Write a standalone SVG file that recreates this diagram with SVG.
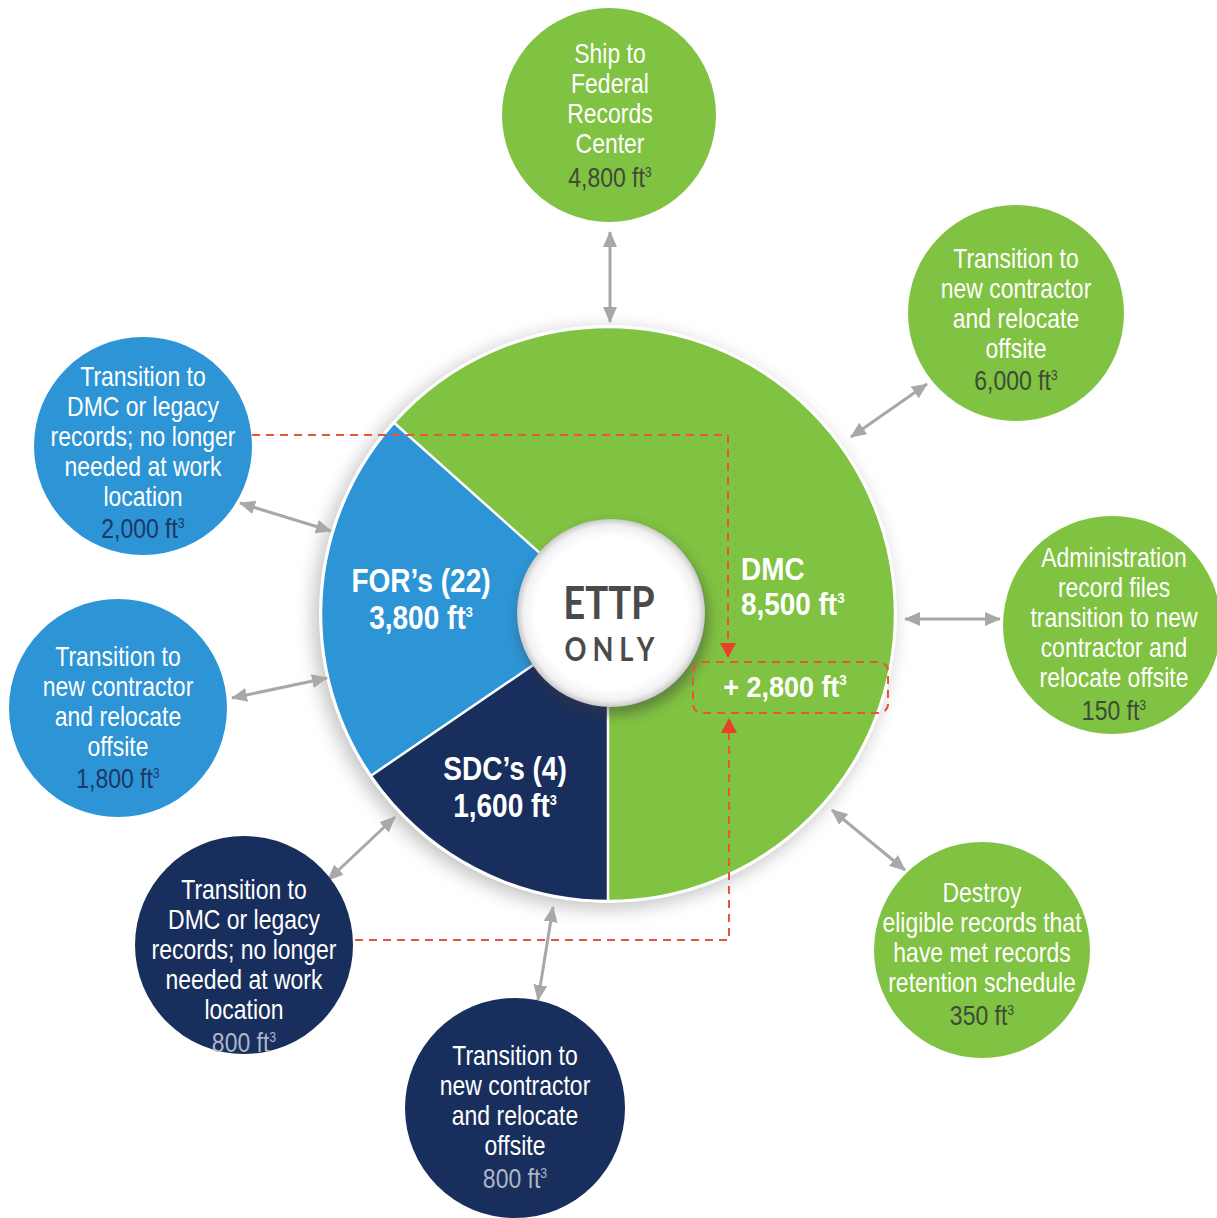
<svg xmlns="http://www.w3.org/2000/svg" width="1217" height="1218" viewBox="0 0 1217 1218">
  <style>
    .lbl { font-family: "Liberation Sans", Arial, sans-serif; font-size: 28px; text-anchor: middle; fill: #ffffff; }
    .val-g { fill: #3f4a3a; }
    .val-b { fill: #1d3766; }
    .val-n { fill: #aeb6c6; }
    .big { font-family: "Liberation Sans", Arial, sans-serif; font-weight: bold; fill: #ffffff; }
    .sup { font-size: 15px; }
    .green { fill: #80c241; }
    .blue { fill: #2d94d5; }
    .navy { fill: #182e5c; }
    .link { stroke: #a8a8a8; stroke-width: 3; fill: none; marker-start: url(#gh); marker-end: url(#gh); }
    .dash { stroke: #e8563a; stroke-width: 2; fill: none; stroke-dasharray: 8 6; }
  </style>
  <defs>
    <marker id="gh" viewBox="0 0 16 14" refX="15" refY="7" markerWidth="16" markerHeight="14" markerUnits="userSpaceOnUse" orient="auto-start-reverse">
      <path d="M0,0 L16,7 L0,14 Z" fill="#a8a8a8"/>
    </marker>
    <filter id="soft" x="-30%" y="-30%" width="160%" height="160%">
      <feGaussianBlur stdDeviation="9"/>
    </filter>
    <filter id="softer" x="-30%" y="-30%" width="160%" height="160%">
      <feGaussianBlur stdDeviation="6"/>
    </filter>
    <radialGradient id="hub" cx="50%" cy="50%" r="50%">
      <stop offset="0" stop-color="#ffffff"/>
      <stop offset="0.8" stop-color="#ffffff"/>
      <stop offset="0.93" stop-color="#f1f1f1"/>
      <stop offset="1" stop-color="#c9c9c9"/>
    </radialGradient>
  </defs>

  <rect width="1217" height="1218" fill="#ffffff"/>

  <!-- central pie: DMC, FOR's and SDC's shares -->
  <g id="pie">
    <circle cx="603" cy="619" r="290" fill="#8a8a8a" opacity="0.5" filter="url(#soft)"/>
    <circle cx="608" cy="614" r="289" fill="#ffffff"/>
    <g id="slice-dmc">
      <path class="green" d="M608,614 L394.1,422.7 A287,287 0 1 1 608,901 Z"/>
    </g>
    <g id="slice-for">
      <path class="blue" d="M608,614 L370.9,775.7 A287,287 0 0 1 394.1,422.7 Z"/>
    </g>
    <g id="slice-sdc">
      <path class="navy" d="M608,614 L608,901 A287,287 0 0 1 370.9,775.7 Z"/>
    </g>
    <g stroke="#ffffff" stroke-width="2.5" fill="none">
      <line x1="608" y1="614" x2="394.1" y2="422.7"/>
      <line x1="608" y1="614" x2="370.9" y2="775.7"/>
      <line x1="608" y1="614" x2="608" y2="901"/>
      <circle cx="608" cy="614" r="287"/>
    </g>
    <text class="big" font-size="33" text-anchor="middle" transform="translate(421 0) scale(0.85 1)"><tspan x="0" y="592">FOR’s (22)</tspan><tspan x="0" y="629">3,800 ft<tspan class="sup" dy="-12">3</tspan></tspan></text>
    <text class="big" font-size="33" text-anchor="middle" transform="translate(505 0) scale(0.85 1)"><tspan x="0" y="780">SDC’s (4)</tspan><tspan x="0" y="817">1,600 ft<tspan class="sup" dy="-12">3</tspan></tspan></text>
    <text class="big" font-size="31" transform="translate(741 0) scale(0.9 1)"><tspan x="0" y="580">DMC</tspan><tspan x="0" y="615">8,500 ft<tspan class="sup" dy="-12">3</tspan></tspan></text>
    <text class="big" font-size="30" text-anchor="middle" transform="translate(785 0) scale(0.9 1)"><tspan x="0" y="697">+ 2,800 ft<tspan class="sup" dy="-12">3</tspan></tspan></text>
  </g>

  <!-- hub -->
  <g id="hub-node">
    <circle cx="614" cy="620" r="95" fill="#3a3a3a" opacity="0.45" filter="url(#softer)"/>
    <circle cx="611" cy="613" r="94" fill="url(#hub)"/>
    <text font-family="Lato, 'Liberation Sans', sans-serif" font-weight="bold" fill="#4a4a4a" text-anchor="middle" transform="translate(609 0) scale(0.85 1)"><tspan x="0" y="619" font-size="45">ETTP</tspan><tspan x="4" y="661" font-size="32" letter-spacing="7">ONLY</tspan></text>
  </g>

  <!-- connectors -->
  <g id="connectors">
    <line class="link" x1="610" y1="232" x2="610" y2="322"/>
    <line class="link" x1="927" y1="384" x2="851" y2="437"/>
    <line class="link" x1="905" y1="619" x2="1000" y2="619"/>
    <line class="link" x1="832" y1="810" x2="905" y2="870"/>
    <line class="link" x1="553" y1="907" x2="538" y2="1000"/>
    <line class="link" x1="395" y1="817" x2="328" y2="880"/>
    <line class="link" x1="232" y1="698" x2="327" y2="678"/>
    <line class="link" x1="240" y1="503" x2="331" y2="531"/>
    <path class="dash" d="M252,435 H728 V643"/>
    <path class="dash" d="M355,940 H729 V733"/>
    <rect class="dash" x="693" y="662" width="195" height="51" rx="9"/>
    <path d="M720,643 L736,643 L728,658 Z" fill="#e8402a"/>
    <path d="M721,733 L737,733 L729,718 Z" fill="#e8402a"/>
  </g>

  <!-- outer nodes -->
  <g id="node-frc">
    <circle class="green" cx="609" cy="115" r="107"/>
    <text class="lbl" transform="translate(610 0) scale(0.82 1)"><tspan x="0" y="63">Ship to</tspan><tspan x="0" y="93">Federal</tspan><tspan x="0" y="123">Records</tspan><tspan x="0" y="153">Center</tspan><tspan class="val-g" x="0" y="187">4,800 ft<tspan class="sup" dy="-10">3</tspan></tspan></text>
  </g>

  <g id="node-dmc-relocate">
    <circle class="green" cx="1016" cy="313" r="108"/>
    <text class="lbl" transform="translate(1016 0) scale(0.82 1)"><tspan x="0" y="268">Transition to</tspan><tspan x="0" y="298">new contractor</tspan><tspan x="0" y="328">and relocate</tspan><tspan x="0" y="358">offsite</tspan><tspan class="val-g" x="0" y="390">6,000 ft<tspan class="sup" dy="-10">3</tspan></tspan></text>
  </g>

  <g id="node-admin">
    <circle class="green" cx="1112" cy="625" r="109"/>
    <text class="lbl" transform="translate(1114 0) scale(0.82 1)"><tspan x="0" y="567">Administration</tspan><tspan x="0" y="597">record files</tspan><tspan x="0" y="627">transition to new</tspan><tspan x="0" y="657">contractor and</tspan><tspan x="0" y="687">relocate offsite</tspan><tspan class="val-g" x="0" y="720">150 ft<tspan class="sup" dy="-10">3</tspan></tspan></text>
  </g>

  <g id="node-destroy">
    <circle class="green" cx="982" cy="950" r="108"/>
    <text class="lbl" transform="translate(982 0) scale(0.82 1)"><tspan x="0" y="902">Destroy</tspan><tspan x="0" y="932">eligible records that</tspan><tspan x="0" y="962">have met records</tspan><tspan x="0" y="992">retention schedule</tspan><tspan class="val-g" x="0" y="1025">350 ft<tspan class="sup" dy="-10">3</tspan></tspan></text>
  </g>

  <g id="node-sdc-relocate">
    <circle class="navy" cx="515" cy="1108" r="110"/>
    <text class="lbl" transform="translate(515 0) scale(0.82 1)"><tspan x="0" y="1065">Transition to</tspan><tspan x="0" y="1095">new contractor</tspan><tspan x="0" y="1125">and relocate</tspan><tspan x="0" y="1155">offsite</tspan><tspan class="val-n" x="0" y="1188">800 ft<tspan class="sup" dy="-10">3</tspan></tspan></text>
  </g>

  <g id="node-sdc-legacy">
    <circle class="navy" cx="244" cy="945" r="109"/>
    <text class="lbl" transform="translate(244 0) scale(0.82 1)"><tspan x="0" y="899">Transition to</tspan><tspan x="0" y="929">DMC or legacy</tspan><tspan x="0" y="959">records; no longer</tspan><tspan x="0" y="989">needed at work</tspan><tspan x="0" y="1019">location</tspan><tspan class="val-n" x="0" y="1052">800 ft<tspan class="sup" dy="-10">3</tspan></tspan></text>
  </g>

  <g id="node-for-relocate">
    <circle class="blue" cx="118" cy="708" r="109"/>
    <text class="lbl" transform="translate(118 0) scale(0.82 1)"><tspan x="0" y="666">Transition to</tspan><tspan x="0" y="696">new contractor</tspan><tspan x="0" y="726">and relocate</tspan><tspan x="0" y="756">offsite</tspan><tspan class="val-b" x="0" y="788">1,800 ft<tspan class="sup" dy="-10">3</tspan></tspan></text>
  </g>

  <g id="node-for-legacy">
    <circle class="blue" cx="143" cy="446" r="109"/>
    <text class="lbl" transform="translate(143 0) scale(0.82 1)"><tspan x="0" y="386">Transition to</tspan><tspan x="0" y="416">DMC or legacy</tspan><tspan x="0" y="446">records; no longer</tspan><tspan x="0" y="476">needed at work</tspan><tspan x="0" y="506">location</tspan><tspan class="val-b" x="0" y="538">2,000 ft<tspan class="sup" dy="-10">3</tspan></tspan></text>
  </g>
</svg>
